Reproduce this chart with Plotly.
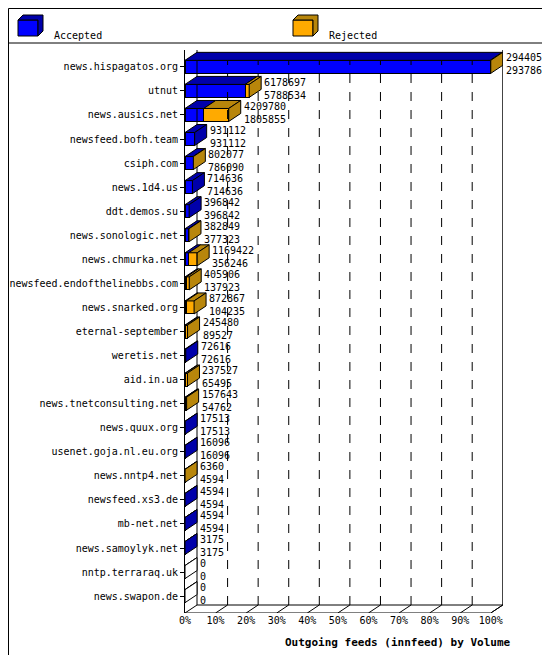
import plotly.graph_objects as go

hosts = ["news.hispagatos.org","utnut","news.ausics.net","newsfeed.bofh.team","csiph.com",
         "news.1d4.us","ddt.demos.su","news.sonologic.net","news.chmurka.net",
         "newsfeed.endofthelinebbs.com","news.snarked.org","eternal-september","weretis.net",
         "aid.in.ua","news.tnetconsulting.net","news.quux.org","usenet.goja.nl.eu.org",
         "news.nntp4.net","newsfeed.xs3.de","mb-net.net","news.samoylyk.net","nntp.terraraq.uk",
         "news.swapon.de"]
offered = [29440544,6178697,4209780,931112,802077,714636,396842,382849,1169422,405906,872867,
           245480,72616,237527,157643,17513,16096,6360,4594,4594,3175,0,0]
accepted = [29378664,5788534,1805855,931112,786090,714636,396842,377323,356246,137923,104235,
            89527,72616,65495,54762,17513,16096,4594,4594,4594,3175,0,0]

W, H = 550, 655
L, R, T, B = 177, 55, 42, 50
pw, ph = W - L - R, H - T - B
XMAX = 104.0
n = len(hosts)
ymin, ymax = -0.7, n - 0.3
mx = max(offered)
dx = 12 * XMAX / pw
dy = 8 * (ymax - ymin) / ph
hh = 0.27

BLUE, DBLUE = "#0000ff", "#0000aa"
ORA, DORA = "#ffaa00", "#b8860b"

ys = [n - 1 - i for i in range(n)]
acc_p = [a / mx * 100 for a in accepted]
rej_p = [(o - a) / mx * 100 for o, a in zip(offered, accepted)]
tot_p = [o / mx * 100 for o in offered]

fig = go.Figure()
fig.add_bar(y=ys, x=acc_p, orientation="h", width=2*hh, marker=dict(color=BLUE, line=dict(color="black", width=1)), hoverinfo="skip")
fig.add_bar(y=ys, x=rej_p, orientation="h", width=2*hh, marker=dict(color=ORA, line=dict(color="black", width=1)), hoverinfo="skip")

shapes = []
px2x = lambda p: (p - L) / pw
py2y = lambda p: (H - B - p) / ph
for g in range(10, 100, 10):
    shapes.append(dict(type="line", xref="x", yref="y", x0=g+dx, x1=g+dx, y0=ymin+dy, y1=ymax, line=dict(color="black", width=1, dash="dash")))
shapes.append(dict(type="line", xref="x", yref="y", x0=dx, x1=dx, y0=ymin+dy, y1=ymax, line=dict(color="black", width=1)))
shapes.append(dict(type="line", xref="x", yref="y", x0=100+dx, x1=100+dx, y0=ymin+dy, y1=ymax, line=dict(color="black", width=1)))
shapes.append(dict(type="line", xref="x", yref="y", x0=dx, x1=XMAX+6, y0=ymin+dy, y1=ymin+dy, line=dict(color="black", width=1)))
shapes.append(dict(type="line", xref="x", yref="y", x0=0, x1=100, y0=ymin, y1=ymin, line=dict(color="black", width=1)))
shapes.append(dict(type="line", xref="x", yref="y", x0=100, x1=100+dx, y0=ymin, y1=ymin+dy, line=dict(color="black", width=1)))
for g in range(0, 101, 10):
    shapes.append(dict(type="line", xref="x", yref="y", x0=g, x1=g+dx, y0=ymin, y1=ymin+dy, line=dict(color="black", width=1)))

for y, a, r, t in zip(ys, acc_p, rej_p, tot_p):
    top = y + hh
    def poly(x0, x1, y0, c):
        return dict(type="path", xref="x", yref="y", fillcolor=c, line=dict(color="black", width=1),
                    path=f"M{x0},{y0} L{x0+dx},{y0+dy} L{x1+dx},{y0+dy} L{x1},{y0} Z")
    if a > 0:
        shapes.append(poly(0, a, top, DBLUE))
    if r > 0:
        shapes.append(poly(a, t, top, DORA))
    if t == 0:
        shapes.append(poly(0, 0, top, "white"))
    side = DORA if r > 0 else (DBLUE if a > 0 else "white")
    shapes.append(dict(type="path", xref="x", yref="y", fillcolor=side, line=dict(color="black", width=1),
                       path=f"M{t},{y-hh} L{t},{top} L{t+dx},{top+dy} L{t+dx},{y-hh+dy} Z"))

shapes.append(dict(type="rect", xref="paper", yref="paper", x0=px2x(0.5), x1=px2x(549.5), y0=py2y(0.5), y1=py2y(654.5), line=dict(color="black", width=1)))
shapes.append(dict(type="line", xref="paper", yref="paper", x0=px2x(0), x1=px2x(550), y0=py2y(35), y1=py2y(35), line=dict(color="black", width=1)))
for bx, c, dc in [(10, BLUE, DBLUE), (285, ORA, DORA)]:
    shapes.append(dict(type="rect", xref="paper", yref="paper", x0=px2x(bx), x1=px2x(bx+20), y0=py2y(28), y1=py2y(12), fillcolor=c, line=dict(color="black", width=1)))
    shapes.append(dict(type="path", xref="paper", yref="paper", fillcolor=dc, line=dict(color="black", width=1),
                       path=f"M{px2x(bx)},{py2y(12)} L{px2x(bx+5)},{py2y(7)} L{px2x(bx+25)},{py2y(7)} L{px2x(bx+25)},{py2y(23)} L{px2x(bx+20)},{py2y(28)} L{px2x(bx+20)},{py2y(12)} Z"))

ann = []
F = dict(family="DejaVu Sans Mono", size=10, color="black")
for y, t, o, a in zip(ys, tot_p, offered, accepted):
    ann.append(dict(x=t+dx, y=y+0.1, xref="x", yref="y", text=f"{o}<br>{a}", showarrow=False, xanchor="left", yanchor="middle", xshift=1, font=F, align="left"))
ann.append(dict(x=px2x(44), y=py2y(20), xref="paper", yref="paper", text="Accepted", showarrow=False, xanchor="left", font=F))
ann.append(dict(x=px2x(319), y=py2y(20), xref="paper", yref="paper", text="Rejected", showarrow=False, xanchor="left", font=F))
ann.append(dict(x=px2x(275), y=py2y(643), xref="paper", yref="paper", text="<b>Outgoing feeds (innfeed) by Volume</b>", showarrow=False, font=dict(family="DejaVu Sans Mono", size=11, color="black")))

fig.update_layout(
    width=W, height=H, margin=dict(l=L, r=R, t=T, b=B, pad=0, autoexpand=False),
    barmode="stack", showlegend=False, plot_bgcolor="white", paper_bgcolor="white",
    shapes=shapes, annotations=ann, font=F,
    xaxis=dict(range=[0, XMAX], tickvals=list(range(0, 101, 10)), ticktext=[f"{v}%" for v in range(0, 101, 10)],
               showgrid=False, zeroline=False, showline=False, ticks="", tickfont=F, automargin=False),
    yaxis=dict(range=[ymin, ymax], tickvals=ys, ticktext=hosts, showgrid=False, zeroline=False, automargin=False,
               showline=True, linecolor="black", ticks="outside", ticklen=4, tickcolor="black", tickfont=F),
)
fig.write_html("out.html")
